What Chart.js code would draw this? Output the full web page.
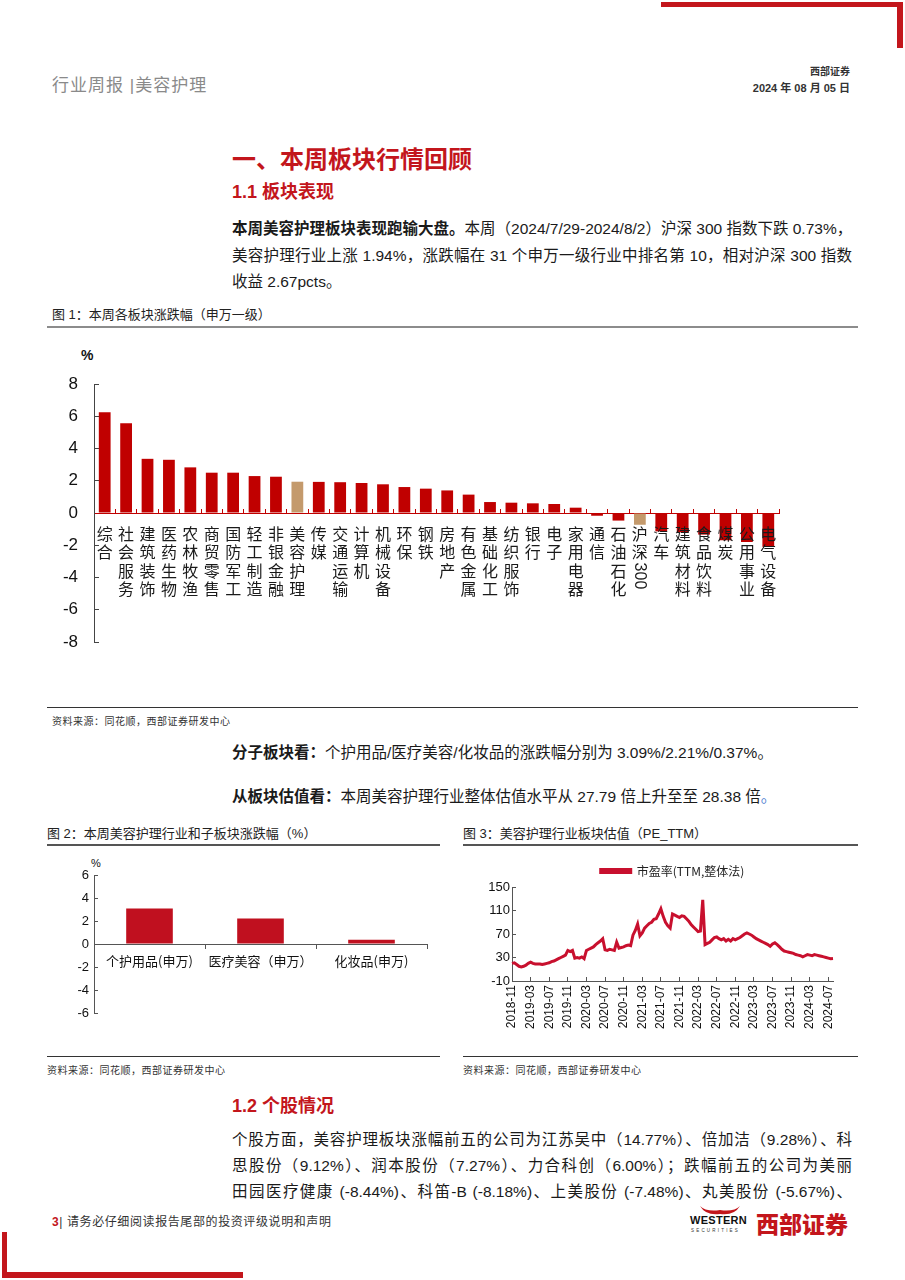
<!DOCTYPE html>
<html><head><meta charset="utf-8">
<script src="https://cdn.jsdelivr.net/npm/chart.js@4.4.1/dist/chart.umd.min.js"></script>
<style>
html,body{margin:0;padding:0;background:#fff;}
body{width:905px;height:1280px;position:relative;overflow:hidden;font-family:"Liberation Sans","Noto Sans CJK SC",sans-serif;color:#1a1a1a;}
.abs{position:absolute;white-space:nowrap;}
.red{color:#C3161C;}
.just{text-align:justify;text-align-last:justify;}
.bar{position:absolute;background:#C3161C;}
.hr{position:absolute;}
b{font-weight:700;}
canvas{position:absolute;}
</style></head><body>
<!-- corner decorations -->
<div class="bar" style="left:661px;top:2px;width:242px;height:5px;"></div>
<div class="bar" style="left:897px;top:2px;width:6px;height:46px;"></div>
<div class="bar" style="left:2px;top:1232px;width:5px;height:46px;"></div>
<div class="bar" style="left:2px;top:1272px;width:241px;height:6px;"></div>

<div class="abs" style="left:52px;top:71px;font-size:17px;color:#8a8a8a;letter-spacing:1px;">行业周报 |美容护理</div>
<div class="abs" style="right:55px;top:63px;font-size:10px;font-weight:700;color:#333;">西部证券</div>
<div class="abs" style="right:55px;top:79px;font-size:11px;font-weight:700;color:#333;">2024 年 08 月 05 日</div>

<div class="abs red" style="left:232px;top:140px;font-size:24px;font-weight:700;">一、本周板块行情回顾</div>
<div class="abs red" style="left:232px;top:177px;font-size:18px;font-weight:700;">1.1 板块表现</div>

<div class="abs just" style="left:232px;top:216px;width:620px;font-size:15.5px;line-height:26px;"><b>本周美容护理板块表现跑输大盘。</b>本周（2024/7/29-2024/8/2）沪深 300 指数下跌 0.73%，</div>
<div class="abs just" style="left:232px;top:243px;width:620px;font-size:15.5px;line-height:26px;">美容护理行业上涨 1.94%，涨跌幅在 31 个申万一级行业中排名第 10，相对沪深 300 指数</div>
<div class="abs" style="left:232px;top:269px;font-size:15.5px;line-height:26px;">收益 2.67pcts。</div>

<div class="abs" style="left:52px;top:304px;font-size:13px;color:#222;">图 1：本周各板块涨跌幅（申万一级）</div>
<div class="hr" style="left:47px;top:326px;width:811px;height:2px;background:#8c8c8c;"></div>
<div class="abs" style="left:81px;top:347px;font-size:14px;font-weight:700;color:#111;">%</div>
<canvas id="c1" width="820" height="360" style="left:40px;top:340px;width:820px;height:360px;"></canvas>
<div class="hr" style="left:47px;top:707px;width:811px;height:1px;background:#333;"></div>
<div class="abs" style="left:52px;top:713px;font-size:10px;color:#333;letter-spacing:0.5px;">资料来源：同花顺，西部证券研发中心</div>

<div class="abs" style="left:232px;top:740px;font-size:15.5px;"><b>分子板块看：</b>个护用品/医疗美容/化妆品的涨跌幅分别为 3.09%/2.21%/0.37%。</div>
<div class="abs" style="left:232px;top:784px;font-size:15.5px;"><b>从板块估值看：</b>本周美容护理行业整体估值水平从 27.79 倍上升至至 28.38 倍<span style="color:#4a7bd0;">。</span></div>

<div class="abs" style="left:47px;top:823px;font-size:13px;color:#222;">图 2：本周美容护理行业和子板块涨跌幅（%）</div>
<div class="hr" style="left:47px;top:844px;width:393px;height:1.5px;background:#555;"></div>
<div class="abs" style="left:91px;top:857px;font-size:11px;color:#111;">%</div>
<canvas id="c2" width="395" height="190" style="left:45px;top:855px;width:395px;height:190px;"></canvas>
<div class="hr" style="left:47px;top:1056px;width:393px;height:1px;background:#333;"></div>
<div class="abs" style="left:47px;top:1062px;font-size:10px;color:#333;letter-spacing:0.5px;">资料来源：同花顺，西部证券研发中心</div>

<div class="abs" style="left:463px;top:823px;font-size:13px;color:#222;">图 3：美容护理行业板块估值（PE_TTM）</div>
<div class="hr" style="left:463px;top:844px;width:395px;height:1.5px;background:#555;"></div>
<canvas id="c3" width="400" height="190" style="left:466px;top:855px;width:400px;height:190px;"></canvas>
<div class="hr" style="left:463px;top:1056px;width:395px;height:1px;background:#333;"></div>
<div class="abs" style="left:463px;top:1062px;font-size:10px;color:#333;letter-spacing:0.5px;">资料来源：同花顺，西部证券研发中心</div>

<div class="abs red" style="left:232px;top:1091px;font-size:18px;font-weight:700;">1.2 个股情况</div>
<div class="abs just" style="left:232px;top:1127px;width:620px;font-size:15.5px;line-height:26px;">个股方面，美容护理板块涨幅前五的公司为江苏吴中（14.77%）、倍加洁（9.28%）、科</div>
<div class="abs just" style="left:232px;top:1153px;width:620px;font-size:15.5px;line-height:26px;">思股份（9.12%）、润本股份（7.27%）、力合科创（6.00%）；跌幅前五的公司为美丽</div>
<div class="abs just" style="left:232px;top:1179px;width:620px;font-size:15.5px;line-height:26px;">田园医疗健康 (-8.44%)、科笛-B (-8.18%)、上美股份 (-7.48%)、丸美股份 (-5.67%)、</div>

<div class="abs" style="left:52px;top:1212px;font-size:12px;color:#333;letter-spacing:0.6px;"><span style="color:#C3161C;font-weight:700;">3</span>| 请务必仔细阅读报告尾部的投资评级说明和声明</div>
<svg class="abs" style="left:698px;top:1204px;" width="44" height="14" viewBox="0 0 44 14"><path d="M2 2 Q8 12 22 10 Q36 12 42 2 Q36 8 22 6 Q8 8 2 2 Z" fill="#C3161C"/></svg>
<div class="abs" style="left:690px;top:1214px;font-size:11px;font-weight:900;color:#111;letter-spacing:0.3px;">WESTERN</div>
<div class="abs" style="left:691px;top:1228px;font-size:4.5px;color:#333;letter-spacing:2.2px;">SECURITIES</div>
<div class="abs" style="left:756px;top:1206px;font-size:23px;font-weight:900;color:#C3161C;">西部证券</div>

<script>
// ---------- Figure 1 data ----------
const sectorNames = ['综合','社会服务','建筑装饰','医药生物','农林牧渔','商贸零售','国防军工','轻工制造','非银金融','美容护理','传媒','交通运输','计算机','机械设备','环保','钢铁','房地产','有色金属','基础化工','纺织服饰','银行','电子','家用电器','通信','石油石化','沪深300','汽车','建筑材料','食品饮料','煤炭','公用事业','电气设备'];
const sectorChanges = [6.25,5.57,3.36,3.30,2.83,2.50,2.50,2.29,2.25,1.94,1.93,1.91,1.86,1.78,1.61,1.51,1.40,1.14,0.68,0.64,0.60,0.56,0.33,-0.17,-0.47,-0.73,-1.14,-1.20,-1.34,-1.69,-1.80,-2.10];
const highlightSectors = ['美容护理','沪深300'];
const fig1Ticks = [-8,-6,-4,-2,0,2,4,6,8];

// ---------- Figure 2 data ----------
const subNames = ['个护用品(申万)','医疗美容（申万）','化妆品(申万)'];
const subChanges = [3.09,2.21,0.37];

// ---------- Figure 3 data ----------
const peStartYear = 2018, peStartMonth = 11;
const peValues = [
 20,21, 18,15, 14,15, 17,20, 22,20, 19,19, 19,18, 19,20, 21,23, 24,26, 28,30, 32,34,
 42,40, 42,29, 30,29, 31,28, 42,44, 46,48, 52,55, 58,62, 43,42, 44,43, 42,56, 46,47,
 48,50, 51,50, 68,76, 87,67, 72,80, 84,88, 90,95, 96,104, 113,100, 90,84, 80,104, 102,100,
 98,101, 100,96, 92,86, 82,78, 74,75, 128,52, 54,56, 60,64, 65,62, 60,62, 58,61, 58,62,
 60,62, 64,67, 70,72, 70,68, 65,62, 60,58, 56,54, 52,49, 53,55, 52,48, 44,41, 40,39,
 38,37, 35,34, 33,31, 33,35, 34,33, 35,34, 33,32, 31,30, 29,28,
 28.38
];
const peTickMonths = ['2018-11','2019-03','2019-07','2019-11','2020-03','2020-07','2020-11','2021-03','2021-07','2021-11','2022-03','2022-07','2022-11','2023-03','2023-07','2023-11','2024-03','2024-07'];
const peLegend = '市盈率(TTM,整体法)';

// build date labels (two observations per month, last one 2024-08-02)
const peDates = [];
{
  let y = peStartYear, m = peStartMonth;
  for (let i = 0; i < peValues.length - 1; i += 2) {
    const mm = String(m).padStart(2,'0');
    peDates.push(`${y}-${mm}-01`, `${y}-${mm}-15`);
    m++; if (m > 12) { m = 1; y++; }
  }
  peDates.push('2024-08-02');
}

const RED = '#C00000', TAN = '#C49A6C';
Chart.defaults.font.family = '"Liberation Sans","Noto Sans CJK SC",sans-serif';
Chart.defaults.color = '#111';
Chart.defaults.animation = false;

// vertical (stacked) category labels for figure 1
const vLabels = {
  id: 'vlabels',
  afterDatasetsDraw(chart, args, opts) {
    if (!opts || !opts.enabled) return;
    const {ctx, scales: {x, y}} = chart;
    const y0 = y.getPixelForValue(0);
    const step = 18.3;
    ctx.save();
    ctx.fillStyle = '#1a1a1a';
    ctx.textAlign = 'center';
    ctx.textBaseline = 'middle';
    sectorNames.forEach((name, i) => {
      const px = x.getPixelForValue(i);
      const m = name.match(/^(\D+)(\d+)?$/);
      const chars = Array.from(m[1]);
      ctx.font = '16px "Noto Sans CJK SC"';
      chars.forEach((c, k) => ctx.fillText(c, px, y0 + 21 + k * step));
      if (m[2]) {
        ctx.font = '16px "Liberation Sans"';
        const w = ctx.measureText(m[2]).width;
        ctx.save();
        ctx.translate(px, y0 + 21 + chars.length * step - 8 + w / 2);
        ctx.rotate(Math.PI / 2);
        ctx.fillText(m[2], 0, 0);
        ctx.restore();
      }
    });
    ctx.restore();
  }
};

new Chart(document.getElementById('c1'), {
  type: 'bar',
  data: {
    labels: sectorNames,
    datasets: [{
      data: sectorChanges,
      backgroundColor: sectorNames.map(n => highlightSectors.includes(n) ? TAN : RED),
      barPercentage: 0.55, categoryPercentage: 1.0
    }]
  },
  options: {
    responsive: false,
    layout: {padding: {left: 0, right: 81, top: 44, bottom: 58}},
    plugins: {legend: {display: false}, tooltip: {enabled: false}, vlabels: {enabled: true}},
    scales: {
      x: {
        position: {y: 0},
        ticks: {display: false},
        grid: {offset: true, drawOnChartArea: false, color: RED, tickLength: -5},
        border: {color: RED, width: 1}
      },
      y: {
        min: -8, max: 8,
        afterBuildTicks: s => { s.ticks = fig1Ticks.map(v => ({value: v})); },
        afterFit: s => { s.width = 54; },
        ticks: {font: {size: 17}, color: '#111', padding: 21},
        grid: {drawOnChartArea: false, tickLength: -5, color: '#444'},
        border: {color: '#444', width: 1}
      }
    }
  },
  plugins: [vLabels]
});

new Chart(document.getElementById('c2'), {
  type: 'bar',
  data: {
    labels: subNames,
    datasets: [{data: subChanges, backgroundColor: '#C0101F', barPercentage: 0.42, categoryPercentage: 1.0}]
  },
  options: {
    responsive: false,
    layout: {padding: {left: 0, right: 13, top: 20, bottom: 32}},
    plugins: {legend: {display: false}, tooltip: {enabled: false}},
    scales: {
      x: {
        position: {y: 0},
        ticks: {font: {size: 13, family: '"Noto Sans CJK SC"'}, color: '#111', padding: 5, maxRotation: 0},
        grid: {offset: true, drawOnChartArea: false, color: '#555', tickLength: 4},
        border: {color: '#555', width: 1}
      },
      y: {
        min: -6, max: 6,
        afterFit: s => { s.width = 49; },
        ticks: {stepSize: 2, font: {size: 13}, color: '#111', padding: 9},
        grid: {drawOnChartArea: false, tickLength: -4, color: '#555'},
        border: {color: '#555', width: 1}
      }
    }
  }
});

new Chart(document.getElementById('c3'), {
  type: 'line',
  data: {
    labels: peDates,
    datasets: [{
      label: peLegend, data: peValues,
      borderColor: '#C8102E', backgroundColor: '#C8102E',
      borderWidth: 3, pointRadius: 0, tension: 0
    }]
  },
  options: {
    responsive: false,
    layout: {padding: {left: 0, right: 33, top: 0, bottom: 0}},
    plugins: {
      tooltip: {enabled: false},
      legend: {position: 'top', fullSize: false, labels: {boxWidth: 30, boxHeight: 3, padding: 10, color: '#222', font: {size: 12, family: '"Noto Sans CJK SC"'}}}
    },
    scales: {
      x: {
        afterFit: s => { s.height = 64; },
        ticks: {
          autoSkip: false, maxRotation: 90, minRotation: 90, padding: 8,
          font: {size: 12}, color: '#111',
          callback: (v, i) => {
            const d = peDates[i];
            return (d.endsWith('-01') && peTickMonths.includes(d.slice(0, 7))) ? d.slice(0, 7) : '';
          }
        },
        grid: {
          drawOnChartArea: false, tickLength: -4,
          color: ctx => {
            const d = peDates[ctx.index];
            return (d && d.endsWith('-01') && peTickMonths.includes(d.slice(0, 7))) ? '#555' : 'rgba(0,0,0,0)';
          }
        },
        border: {color: '#555', width: 1}
      },
      y: {
        min: -10, max: 150,
        afterFit: s => { s.width = 46; },
        ticks: {stepSize: 40, font: {size: 13}, color: '#111', padding: 6},
        grid: {drawOnChartArea: false, tickLength: -4, color: '#555'},
        border: {color: '#555', width: 1}
      }
    }
  }
});
</script>
</body></html>
